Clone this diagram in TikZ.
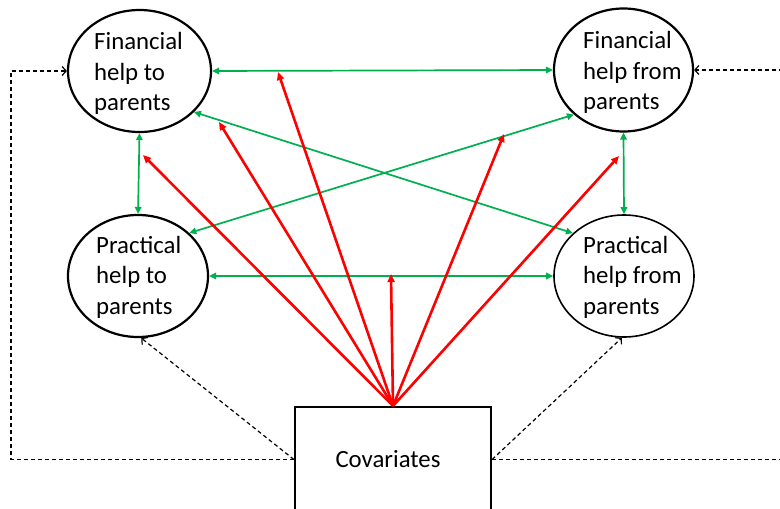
\documentclass[tikz,border=0pt]{standalone}
\usepackage{fontspec}
\setmainfont{Carlito}
\usetikzlibrary{arrows.meta,shapes.geometric,calc}
\definecolor{grn}{HTML}{00B050}
\definecolor{rd}{HTML}{FF0000}
\begin{document}
\begin{tikzpicture}[x=1pt,y=-1pt,
  ell/.style={draw,ellipse,line width=2.2pt,inner sep=0pt},
  lbl/.style={anchor=west,align=left,inner sep=0pt,font=\fontsize{24.8}{30.5}\selectfont},
  garrow/.style={draw=grn,line width=1.7pt,{Triangle[length=7pt,width=6.5pt]}-{Triangle[length=7pt,width=6.5pt]}},
  rarrow/.style={draw=rd,line width=2.6pt,-{Triangle[length=8pt,width=7pt]}},
  darrow/.style={draw=black,line width=1.2pt,dash pattern=on 4pt off 3pt,-{Straight Barb[length=4pt,width=9pt]}},
]
\useasboundingbox (0,0) rectangle (780,509);
\clip (0,0) rectangle (780,509);
\fill[white] (0,0) rectangle (780,509);

% ellipses
\node[ell,minimum width=143pt,minimum height=122pt] (fto) at (139.5,71) {};
\node[ell,minimum width=139pt,minimum height=123pt] (ffrom) at (623.5,70) {};
\node[ell,minimum width=140pt,minimum height=122pt] (pto) at (138,276) {};
\node[ell,line width=1.6pt,minimum width=140pt,minimum height=122pt] (pfrom) at (624,276) {};

% labels
\node[lbl] (ftot) at (94,73.5) {Financial\\help to\\parents};
\node[lbl] (ffromt) at (583,72.5) {Financial\\help from\\parents};
\node[lbl] (ptot) at (96,277) {Practical\\help to\\parents};
\node[lbl] (pfromt) at (583,277) {Practical\\help from\\parents};

% covariates box
\node[draw,line width=2.2pt,minimum width=196pt,minimum height=105pt,inner sep=0pt] (cov) at (393,459.5) {};
\node[inner sep=0pt,font=\fontsize{24.8}{30.5}\selectfont] (covt) at (388,459) {Covariates};

% green arrows
\draw[garrow] (fto.east) -- (ffrom.west);
\draw[garrow] (pto.east) -- (pfrom.west);
\draw[garrow] (fto.south) -- (pto.north);
\draw[garrow] (ffrom.south) -- (pfrom.north);
\draw[garrow] (fto.-37) -- (pfrom.140);
\draw[garrow] (pto.40) -- (ffrom.-138);

% red arrow ends
\coordinate (r1) at (143,155);
\coordinate (r2) at (219,122);
\coordinate (r3) at (278,72);
\coordinate (r4) at (391,274);
\coordinate (r5) at (504,134);
\coordinate (r6) at (619,156);
\foreach \r in {r1,r2,r3,r4,r5,r6} \draw[rarrow] (cov.north) -- (\r);

% dashed covariate paths
\coordinate (L) at (11,459.5);
\coordinate (R) at (800,459.5);
\draw[darrow] (cov.west) -- (L) |- (fto.west);
\draw[darrow] (cov.east) -- (R) |- (ffrom.east);
\draw[darrow] (cov.west) -- (pto.-87);
\draw[darrow] (cov.east) -- (pfrom.-92);
\end{tikzpicture}
\end{document}
